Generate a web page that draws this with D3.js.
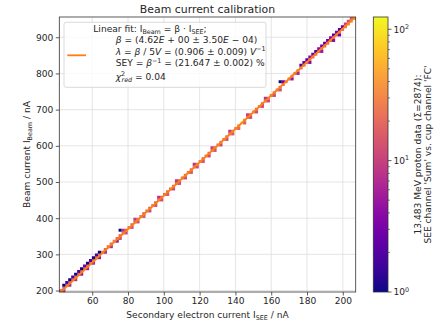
<!DOCTYPE html>
<html><head><meta charset="utf-8">
<script src="https://cdn.jsdelivr.net/npm/d3@7"></script>
<style>
body{margin:0;background:#fff}
svg text{font-family:"DejaVu Sans",sans-serif;fill:#262626}
</style></head><body>
<svg id="chart" width="446" height="322"></svg>
<script>
// Histogram binning: secondary electron current (x) vs. beam current (y), in nA
const seeRange = [41.6, 207.2];
const beamRange = [196, 956];
const nBinsSee = 100;
const nBinsBeam = 100;
const xTicks = [60, 80, 100, 120, 140, 160, 180, 200];
const yTicks = [200, 300, 400, 500, 600, 700, 800, 900];
const fitSlope = 4.62;
const countRange = [1, 124];
const colorTicks = [1, 10, 100];

// Count in the bin crossed by the fit line for each SEE bin (beam bin index = SEE bin index)
const onLineCounts = [
  15, 18, 17, 20, 19, 22, 16, 20, 21, 17,
  20, 23, 18, 21, 24, 19, 22, 20, 26, 18,
  15, 20, 14, 25, 16, 17, 21, 23, 13, 24,
  16, 26, 15, 24, 17, 20, 19, 22, 21, 19,
  18, 21, 22, 23, 20, 18, 23, 25, 15, 27,
  18, 24, 17, 26, 24, 24, 21, 21, 26, 27,
  42, 124, 29, 24, 20, 30, 18, 27, 16, 22,
  19, 22, 22, 23, 20, 21, 25, 22, 24, 20,
  23, 19, 22, 18, 23, 17, 21, 16, 20, 15,
  19, 16, 18, 17, 22, 20, 25, 33, 45, 38
];

// Bins next to the fit line: [SEE bin, beam bin, count]
const aboveLowEnd = [[1,2,1],[2,3,2],[3,4,1],[4,5,2],[5,6,1],[6,7,2],[7,8,1],[8,9,3],[9,10,1],[10,11,2],[11,12,1],[12,13,2],[13,14,1],[20,22,1]];
const aboveMiddle = [[21,22,8],[25,26,9],[33,34,8],[39,40,9],[45,46,8],[51,52,10],[57,58,9],[63,64,10],[69,70,8],[74,76,1],[75,76,3]];
const aboveHighEnd = [[81,82,2],[82,83,3],[83,84,2],[84,85,4],[85,86,3],[86,87,2],[87,88,4],[88,89,3],[89,90,2],[90,91,3],[91,92,4],[92,93,2],[93,94,3],[94,95,2],[95,96,3],[96,97,10],[97,98,12],[98,99,15]];
const belowLine = [[1,0,8],[3,2,6],[5,4,7],[7,6,5],[9,8,6],[11,10,7],[13,12,5],[15,14,6],[17,16,7],[19,18,5],
  [20,19,12],[22,21,11],[24,23,13],[26,25,12],[28,27,14],[30,29,11],[32,31,13],[34,33,12],[36,35,14],[38,37,11],
  [40,39,13],[42,41,12],[44,43,15],[46,45,12],[48,47,13],[50,49,11],[52,51,14],[54,53,12],[56,55,13],[58,57,15],
  [60,59,18],[62,61,16],[64,63,13],[66,65,12],[68,67,14],[70,69,11],[72,71,12],[74,73,13],
  [78,77,5],[80,79,6],[84,83,4],[88,87,5],[92,91,4],[94,93,3]];

const cells = onLineCounts.map((n, i) => [i, i, n])
  .concat(aboveLowEnd, aboveMiddle, aboveHighEnd, belowLine);
const total = d3.sum(cells, d => d[2]);

const svg = d3.select("#chart");
const plot = {left: 59.3, right: 355.7, top: 17, bottom: 292};
const x = d3.scaleLinear().domain(seeRange).range([plot.left, plot.right]);
const y = d3.scaleLinear().domain(beamRange).range([plot.bottom, plot.top]);
const color = d3.scaleSequentialLog(d3.interpolatePlasma).domain(countRange);
const seeStep = (seeRange[1] - seeRange[0]) / nBinsSee;
const beamStep = (beamRange[1] - beamRange[0]) / nBinsBeam;

// grid
const grid = svg.append("g").attr("stroke", "#dedede").attr("stroke-width", 0.8);
grid.selectAll(".gx").data(xTicks).join("line")
  .attr("x1", d => x(d)).attr("x2", d => x(d)).attr("y1", plot.top).attr("y2", plot.bottom);
grid.selectAll(".gy").data(yTicks).join("line")
  .attr("y1", d => y(d)).attr("y2", d => y(d)).attr("x1", plot.left).attr("x2", plot.right);

// histogram cells
svg.append("g").selectAll("rect").data(cells).join("rect")
  .attr("x", d => x(seeRange[0] + d[0] * seeStep))
  .attr("width", d => x(seeRange[0] + (d[0] + 1) * seeStep) - x(seeRange[0] + d[0] * seeStep) + 0.2)
  .attr("y", d => y(beamRange[0] + (d[1] + 1) * beamStep))
  .attr("height", d => y(beamRange[0] + d[1] * beamStep) - y(beamRange[0] + (d[1] + 1) * beamStep) + 0.2)
  .attr("fill", d => color(d[2]));

// fit line
svg.append("clipPath").attr("id", "clip").append("rect")
  .attr("x", plot.left).attr("y", plot.top)
  .attr("width", plot.right - plot.left).attr("height", plot.bottom - plot.top);
svg.append("line").attr("clip-path", "url(#clip)")
  .attr("x1", x(seeRange[0])).attr("y1", y(fitSlope * seeRange[0]))
  .attr("x2", x(seeRange[1])).attr("y2", y(fitSlope * seeRange[1]))
  .attr("stroke", "#ff7f0e").attr("stroke-width", 1.8);

// axes
const xAxis = svg.append("g").attr("transform", `translate(0,${plot.bottom})`)
  .call(d3.axisBottom(x).tickValues(xTicks).tickSize(3.5).tickPadding(2.5));
const yAxis = svg.append("g").attr("transform", `translate(${plot.left},0)`)
  .call(d3.axisLeft(y).tickValues(yTicks).tickSize(3.5).tickPadding(2.5));
[xAxis, yAxis].forEach(a => {
  a.select(".domain").remove();
  a.selectAll("line").attr("stroke", "#333").attr("stroke-width", 0.8);
  a.selectAll("text").attr("font-size", 9.1).attr("font-family", "DejaVu Sans").attr("fill", "#262626");
});
svg.append("rect").attr("x", plot.left).attr("y", plot.top)
  .attr("width", plot.right - plot.left).attr("height", plot.bottom - plot.top)
  .attr("fill", "none").attr("stroke", "#333").attr("stroke-width", 0.8);

// title and axis labels
svg.append("text").attr("x", (plot.left + plot.right) / 2).attr("y", 13)
  .attr("text-anchor", "middle").attr("font-size", 10.9).text("Beam current calibration");

const xl = svg.append("text").attr("x", (plot.left + plot.right) / 2).attr("y", 318)
  .attr("text-anchor", "middle").attr("font-size", 9.1);
xl.append("tspan").text("Secondary electron current I");
xl.append("tspan").attr("font-size", 6.4).attr("dy", 2).text("SEE");
xl.append("tspan").attr("dy", -2).text(" / nA");

const yl = svg.append("text").attr("transform", `translate(30,${(plot.top + plot.bottom) / 2}) rotate(-90)`)
  .attr("text-anchor", "middle").attr("font-size", 9.1);
yl.append("tspan").text("Beam current I");
yl.append("tspan").attr("font-size", 6.4).attr("dy", 2).text("Beam");
yl.append("tspan").attr("dy", -2).text(" / nA");

// legend
const lg = svg.append("g");
lg.append("rect").attr("x", 64).attr("y", 22.3).attr("width", 202).attr("height", 65)
  .attr("rx", 2).attr("fill", "#fff").attr("fill-opacity", 0.8)
  .attr("stroke", "#d0d0d0").attr("stroke-width", 0.8);
lg.append("line").attr("x1", 67.3).attr("x2", 86).attr("y1", 55.3).attr("y2", 55.3)
  .attr("stroke", "#ff7f0e").attr("stroke-width", 1.8);
const fs = 9.1, sub = 6.4;
function addLine(xp, yp, parts) {
  const t = lg.append("text").attr("x", xp).attr("y", yp).attr("font-size", fs);
  parts.forEach(p => {
    const s = t.append("tspan").text(p.t);
    if (p.i) s.attr("font-style", "italic");
    if (p.dy) s.attr("dy", p.dy);
    if (p.dx) s.attr("dx", p.dx);
    if (p.s) s.attr("font-size", sub);
  });
}
addLine(93.3, 32.3, [{t: "Linear fit: I"}, {t: "Beam", s: 1, dy: 2}, {t: " = β · I", dy: -2}, {t: "SEE", s: 1, dy: 2}, {t: ";", dy: -2}]);
addLine(115.7, 43.3, [{t: "β", i: 1}, {t: " = (4.62"}, {t: "E", i: 1}, {t: " + 00 ± 3.50"}, {t: "E", i: 1}, {t: " − 04)"}]);
addLine(115.7, 54.6, [{t: "λ", i: 1}, {t: " = "}, {t: "β", i: 1}, {t: " / 5"}, {t: "V", i: 1}, {t: " = (0.906 ± 0.009) "}, {t: "V", i: 1}, {t: "−1", s: 1, dy: -3.5}]);
addLine(115.7, 66.2, [{t: "SEY = "}, {t: "β", i: 1}, {t: "−1", s: 1, dy: -3.5}, {t: " = (21.647 ± 0.002) %", dy: 3.5}]);
addLine(115.7, 79.5, [{t: "χ", i: 1}, {t: "2", s: 1, dy: -4}, {t: "red", s: 1, i: 1, dy: 6.5, dx: -3.6}, {t: " = 0.04", dy: -2.5}]);

// colorbar
const cb = {x: 373.3, w: 14.7};
const cy = d3.scaleLog().domain(countRange).range([plot.bottom, plot.top]);
const grad = svg.append("defs").append("linearGradient").attr("id", "cbgrad")
  .attr("x1", 0).attr("y1", 1).attr("x2", 0).attr("y2", 0);
d3.range(0, 1.0001, 0.05).forEach(t => grad.append("stop")
  .attr("offset", t).attr("stop-color", d3.interpolatePlasma(t)));
svg.append("rect").attr("x", cb.x).attr("y", plot.top).attr("width", cb.w)
  .attr("height", plot.bottom - plot.top).attr("fill", "url(#cbgrad)")
  .attr("stroke", "#333").attr("stroke-width", 0.8);
const minorTicks = [2,3,4,5,6,7,8,9,20,30,40,50,60,70,80,90].filter(v => v <= countRange[1]);
svg.append("g").selectAll("line").data(minorTicks).join("line")
  .attr("x1", cb.x + cb.w).attr("x2", cb.x + cb.w + 2).attr("y1", d => cy(d)).attr("y2", d => cy(d))
  .attr("stroke", "#333").attr("stroke-width", 0.6);
const maj = svg.append("g").selectAll("g").data(colorTicks).join("g")
  .attr("transform", d => `translate(${cb.x + cb.w},${cy(d)})`);
maj.append("line").attr("x2", 3.5).attr("stroke", "#333").attr("stroke-width", 0.8);
const mt = maj.append("text").attr("x", 5.5).attr("y", 3.3).attr("font-size", 9.1);
mt.append("tspan").text("10");
mt.append("tspan").attr("font-size", 6.4).attr("dy", -3.8).text(d => Math.round(Math.log10(d)));

[["13.483 MeV proton data (Σ=" + total + "):", 420.5], ["SEE channel 'Sum' vs. cup channel 'FC'", 431]]
  .forEach(([txt, xp]) => svg.append("text")
    .attr("transform", `translate(${xp},${(plot.top + plot.bottom) / 2}) rotate(-90)`)
    .attr("text-anchor", "middle").attr("font-size", 9.1).text(txt));
</script>
</body></html>
